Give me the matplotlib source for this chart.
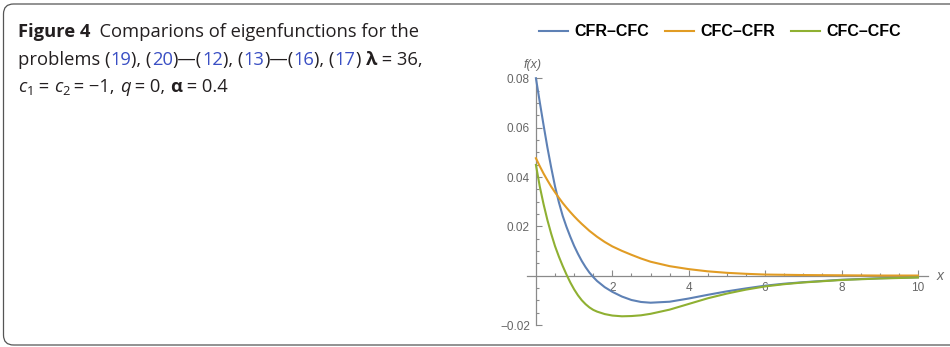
import matplotlib
matplotlib.use('Agg')
import matplotlib.pyplot as plt
from matplotlib.patches import FancyBboxPatch
from matplotlib.transforms import IdentityTransform
from matplotlib.ticker import FixedLocator, FixedFormatter
import numpy as np

W, H = 950, 347

# eigenfunction samples read along x
x = [0, 0.1, 0.2, 0.3, 0.4, 0.5, 0.6, 0.7, 0.8, 0.9, 1.0, 1.1, 1.2, 1.3,
     1.4, 1.5, 1.6, 1.8, 2.0, 2.25, 2.5, 2.75, 3.0, 3.5, 4.0, 4.5, 5.0,
     5.5, 6.0, 6.5, 7.0, 8.0, 9.0, 10.0]
cfr_cfc = [0.0800, 0.0704, 0.0610, 0.0520, 0.0438, 0.0362, 0.0298, 0.0243,
           0.0198, 0.0158, 0.0121, 0.0089, 0.0060, 0.0035, 0.0013, -0.0005,
           -0.0021, -0.0046, -0.0065, -0.0084, -0.0098, -0.0106, -0.0109,
           -0.0105, -0.0092, -0.0077, -0.0063, -0.0051, -0.0040, -0.0032,
           -0.0026, -0.0016, -0.0010, -0.0006]
cfc_cfr = [0.0476, 0.0444, 0.0414, 0.0387, 0.0361, 0.0338, 0.0316, 0.0295,
           0.0276, 0.0258, 0.0241, 0.0225, 0.0210, 0.0196, 0.0182, 0.0170,
           0.0158, 0.0137, 0.0119, 0.0101, 0.0085, 0.0070, 0.0057, 0.0039,
           0.0027, 0.0018, 0.0012, 0.0008, 0.0005, 0.0004, 0.0003, 0.0002,
           0.0001, 0.0001]
cfc_cfc = [0.0449, 0.0362, 0.0290, 0.0226, 0.0170, 0.0120, 0.0078, 0.0040,
           0.0005, -0.0027, -0.0055, -0.0079, -0.0099, -0.0115, -0.0128,
           -0.0138, -0.0145, -0.0155, -0.0161, -0.0164, -0.0163, -0.0160,
           -0.0154, -0.0137, -0.0114, -0.0091, -0.0072, -0.0056, -0.0043,
           -0.0034, -0.0027, -0.0017, -0.0011, -0.0007]

series_names = ['CFR\u2013CFC', 'CFC\u2013CFR', 'CFC\u2013CFC']
series_colors = ['#5E81B5', '#E19C24', '#8FB032']

x_ticks = [2, 4, 6, 8, 10]
x_ticklabels = ['2', '4', '6', '8', '10']
y_ticks = [-0.02, 0.02, 0.04, 0.06, 0.08]
y_ticklabels = ['\u22120.02', '0.02', '0.04', '0.06', '0.08']

fig = plt.figure(figsize=(W / 100, H / 100), dpi=100)

# axes placed so data (0, 0) lands near px (536, 276)
ax = fig.add_axes([0.5392, 0.0522, 0.4472, 0.7366])
ax.set_xlim(-0.62, 10.5)
ax.set_ylim(-0.0215, 0.082)
ax.patch.set_alpha(0)

for vals, name, c in zip([cfr_cfc, cfc_cfr, cfc_cfc], series_names, series_colors):
    ax.plot(x, vals, color=c, lw=1.5, label=name, zorder=5, solid_joinstyle='round')

axis_col = '#8a8a8a'
for s in ['top', 'right']:
    ax.spines[s].set_visible(False)
ax.spines['left'].set_position(('data', 0))
ax.spines['bottom'].set_position(('data', 0))
ax.spines['left'].set_bounds(-0.02, 0.08)
ax.spines['bottom'].set_bounds(-0.24, 10.26)
for s in ['left', 'bottom']:
    ax.spines[s].set_color(axis_col)
    ax.spines[s].set_linewidth(0.9)

ax.xaxis.set_major_locator(FixedLocator(x_ticks))
ax.xaxis.set_major_formatter(FixedFormatter(x_ticklabels))
ax.xaxis.set_minor_locator(FixedLocator([v for v in np.arange(0.5, 10.01, 0.5) if v % 2]))
ax.yaxis.set_major_locator(FixedLocator(y_ticks))
ax.yaxis.set_major_formatter(FixedFormatter(y_ticklabels))
ax.yaxis.set_minor_locator(FixedLocator(
    [v for v in np.round(np.arange(-0.015, 0.08, 0.005), 3) if round(v / 0.02, 3) % 1]))

ax.tick_params(which='both', direction='in', color=axis_col, width=0.8,
               labelcolor='#666666', labelsize=8.5)
ax.tick_params(which='major', length=4)
ax.tick_params(which='minor', length=2.5)
ax.tick_params(axis='x', pad=4.5)
ax.tick_params(axis='y', pad=4.3)
for lab in ax.get_xticklabels() + ax.get_yticklabels():
    lab.set_family('Liberation Sans')

fig.text(533 / W, 1 - 65 / H, 'f(x)', ha='center', va='center', style='italic',
         color='#666666', fontsize=9, family='Liberation Sans')
fig.text(940 / W, 1 - 276 / H, 'x', ha='center', va='center', style='italic',
         color='#666666', fontsize=10, family='Liberation Sans')

fig.legend(loc='center', bbox_to_anchor=(720 / W, 1 - 32 / H), ncol=3,
           frameon=False, handlelength=1.8, handletextpad=0.4, columnspacing=1.0,
           prop=dict(family='Liberation Sans', weight='bold', size=11.5))

# rounded frame around the figure panel
frame = FancyBboxPatch((3.5, 2.0), 1000, 341, boxstyle='round,pad=0,rounding_size=10',
                       transform=IdentityTransform(), fill=False, ec='#555555', lw=0.9)
fig.add_artist(frame)

# caption, drawn run by run so colours and styles can change mid-line
renderer = fig.canvas.get_renderer()
cap_family = ['Open Sans', 'DejaVu Sans']
cap_size = 13.2
ink = '#231f20'
ref = '#3a4fc4'


def run_width(s, **kw):
    probe = fig.text(0, 0, '|' + s + '|', **kw)
    bar = fig.text(0, 0, '||', **kw)
    w = probe.get_window_extent(renderer).width - bar.get_window_extent(renderer).width
    probe.remove()
    bar.remove()
    return w


def draw_line(x0, y0, runs):
    xp = x0
    for s, opts in runs:
        opts = dict(opts)
        dy = opts.pop('dy', 0)
        kw = dict(family=cap_family, fontsize=cap_size, color=ink)
        kw.update(opts)
        fig.text(xp / W, 1 - (y0 + dy) / H, s, ha='left', va='baseline', **kw)
        xp += run_width(s, **kw)


def refs(nums, seps):
    out = []
    for n, sep in zip(nums, seps):
        out.append((n, dict(color=ref)))
        out.append((sep, {}))
    return out


draw_line(18, 37, [('Figure 4', dict(weight='bold')),
                   ('  Comparions of eigenfunctions for the', {})])
line2 = [('problems (', {})]
line2 += refs(['19', '20', '12', '13', '16', '17'],
              ['), (', ')\u2014(', '), (', ')\u2014(', '), (', ') '])
line2 += [('\u03bb', dict(weight='bold')), (' = 36,', {})]
draw_line(18, 65, line2)
sub = dict(fontsize=cap_size * 0.7, dy=3)
draw_line(18, 92, [('c', dict(style='italic')), ('1', sub), (' = ', {}),
                   ('c', dict(style='italic')), ('2', sub), (' = \u22121, ', {}),
                   ('q', dict(style='italic')), (' = 0, ', {}),
                   ('\u03b1', dict(weight='bold')), (' = 0.4', {})])

fig.savefig('out.png', dpi=100)
